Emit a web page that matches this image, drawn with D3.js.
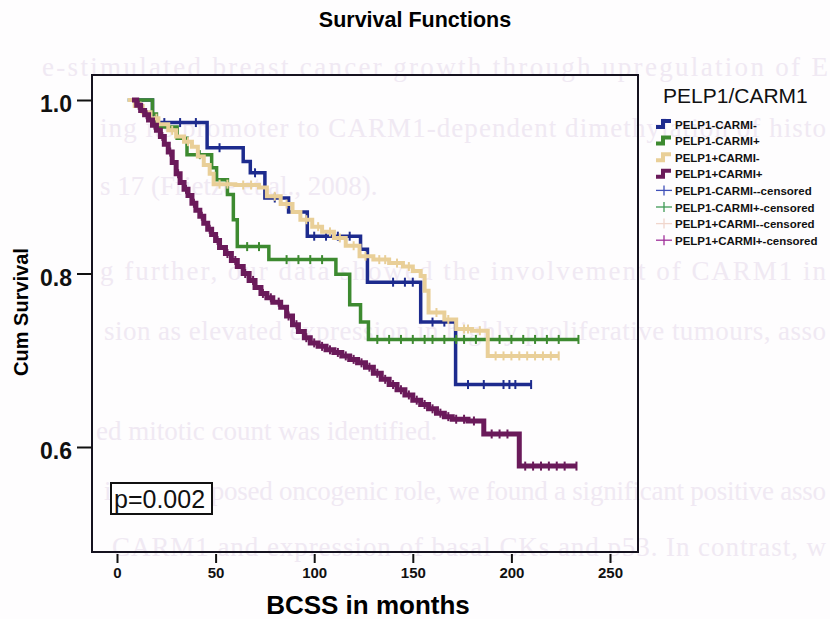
<!DOCTYPE html>
<html><head><meta charset="utf-8">
<script src="https://cdn.jsdelivr.net/npm/d3@7/dist/d3.min.js"></script>
<style>
html,body{margin:0;padding:0;background:#fefdfe;}
svg{display:block;}
</style></head>
<body>
<script>
// ---- data ----
const groups = ["PELP1-CARMI-","PELP1-CARMI+","PELP1+CARMI-","PELP1+CARMI+"];
const colors = ["#1d2b8e","#3d8a30","#e9cf98","#6a1a5a"];
const censorColors = ["#4050b8","#3f9a55","#f0d6cc","#a0309a"];
const legendLabels = ["PELP1-CARMI-","PELP1-CARMI+","PELP1+CARMI-","PELP1+CARMI+",
  "PELP1-CARMI--censored","PELP1-CARMI+-censored","PELP1+CARMI--censored","PELP1+CARMI+-censored"];
const xTicks = [0,50,100,150,200,250];
const yTicks = [0.6,0.8,1.0];

// step curves: [months, cumulative survival]
const blueSteps = [[5.5,1.0],[18,0.974],[45.7,0.945],[64,0.929],[67.6,0.916],[75,0.887],[87,0.871],[96.5,0.843],[123.5,0.828],[127,0.79],[154,0.744],[171.7,0.672],[210,0.672]];
const greenSteps = [[5.5,1.0],[18,0.984],[20,0.969],[30.5,0.956],[35.5,0.937],[48,0.922],[50.5,0.908],[56,0.891],[59,0.862],[61,0.831],[77,0.816],[111,0.799],[118,0.764],[123.5,0.744],[127.5,0.724],[234,0.724]];
const tanSteps = [[5.5,1.0],[9,0.993],[13,0.986],[17,0.979],[21,0.972],[26,0.965],[30,0.958],[34,0.952],[38,0.946],[41,0.935],[44,0.925],[47,0.915],[49,0.903],[60,0.902],[72,0.899],[76,0.889],[83,0.88],[89,0.871],[93,0.862],[99,0.854],[104,0.848],[110,0.841],[116,0.832],[123,0.82],[130,0.816],[138,0.812],[145,0.808],[150,0.803],[154,0.797],[156,0.78],[158,0.755],[166,0.747],[172,0.736],[180,0.734],[188,0.705],[224,0.705]];
const purpleSteps = [[7.6,1.0],[10,0.994],[12,0.988],[14,0.983],[16,0.977],[18,0.971],[20,0.965],[22,0.958],[24,0.949],[26,0.94],[28,0.928],[30,0.915],[32,0.905],[34,0.897],[36,0.89],[38,0.881],[40,0.873],[42,0.866],[44,0.858],[46,0.851],[48,0.845],[50,0.838],[52,0.83],[55,0.823],[58,0.815],[61,0.808],[64,0.8],[67,0.792],[70,0.784],[73,0.777],[76,0.772],[79,0.767],[83,0.761],[86,0.751],[89,0.741],[92,0.733],[95,0.726],[98,0.72],[102,0.716],[106,0.712],[110,0.709],[114,0.705],[118,0.701],[122,0.697],[126,0.692],[130,0.685],[134,0.678],[138,0.672],[142,0.666],[146,0.66],[150,0.654],[154,0.649],[158,0.644],[162,0.639],[166,0.635],[170,0.632],[178,0.63],[186,0.615],[204,0.578],[233,0.578]];

// censoring times (months)
const blueCensor = [24,32,40,52,70,80,100,106,112,118,140,146,150,160,166,178,186,196,199,202,210];
const greenCensor = [42,66,72,86,92,98,104,132,138,144,150,156,160,166,172,176,182,188,194,200,206,212,218,224,234];
const tanCensor = [12,20,28,36,52,56,64,68,80,86,96,102,108,113,120,126,133,136,142,148,162,168,176,178,184,192,196,200,204,208,212,216,220,224];
const purpleCensor = [11,15,19,23,27,31,35,39,43,47,51,56,60,65,69,74,78,82,87,91,96,100,104,108,112,116,120,124,128,132,136,140,144,148,152,156,160,164,168,172,176,181,190,194,198,207,211,215,219,223,227,233];

const bgLines = [
  "e-stimulated breast cancer growth through upregulation of E",
  "ing its promoter to CARM1-dependent dimethylation of histo",
  "s 17 (Frietze et al., 2008).",
  "g further, our data showed the involvement of CARM1 in",
  "sion as elevated expression in highly proliferative tumours, asso",
  "ed mitotic count was identified.",
  "ing its proposed oncogenic role, we found a significant positive asso",
  "CARM1 and expression of basal CKs and p53. In contrast, w"
];

// ---- drawing ----
const W = 830, H = 619;
const svg = d3.select("body").append("svg").attr("width", W).attr("height", H)
  .style("font-family", "'Liberation Sans', Arial, sans-serif");

// faint bleed-through text of the scanned page
const bgY = [76, 137, 195, 280, 340, 440, 500, 556];
const bgX = [42, 100, 100, 100, 104, 96, 104, 112];
const bgLen = [786, 726, null, 726, 722, null, 722, 714];
bgLines.forEach((t, i) => {
  const tx = svg.append("text").attr("x", bgX[i]).attr("y", bgY[i])
    .attr("font-family", "'Liberation Serif', 'DejaVu Serif', serif")
    .attr("font-size", 27).attr("fill", "#f0e9f3").text(t);
  if (bgLen[i]) tx.attr("textLength", bgLen[i]).attr("lengthAdjust", "spacing");
});

const x = d3.scaleLinear().domain([0, 250]).range([117, 610]);
const y = d3.scaleLinear().domain([0.6, 1.0]).range([447, 100]);

// title
svg.append("text").attr("x", 415).attr("y", 27).attr("text-anchor", "middle")
  .attr("font-weight", "bold").attr("font-size", 21.5).text("Survival Functions");

// frame
svg.append("rect").attr("x", 92).attr("y", 75).attr("width", 546).attr("height", 477)
  .attr("fill", "none").attr("stroke", "#15121f").attr("stroke-width", 2);

// y axis
const yAxis = svg.append("g").attr("transform", "translate(92,0)")
  .call(d3.axisLeft(y).tickValues(yTicks).tickFormat(d3.format(".1f")).tickSize(15).tickPadding(5));
yAxis.select(".domain").remove();
yAxis.selectAll("line").attr("stroke", "#111").attr("stroke-width", 2);
yAxis.selectAll("text").attr("font-size", 23).attr("font-weight", "bold").attr("fill", "#111")
  .attr("dy", "0.5em").style("font-family", "'Liberation Sans', Arial, sans-serif");

// x axis
const xAxis = svg.append("g").attr("transform", "translate(0,554)")
  .call(d3.axisBottom(x).tickValues(xTicks).tickSize(9).tickPadding(4));
xAxis.select(".domain").remove();
xAxis.selectAll("line").attr("stroke", "#111").attr("stroke-width", 2);
xAxis.selectAll("text").attr("font-size", 15).attr("font-weight", "bold").attr("fill", "#111")
  .style("font-family", "'Liberation Sans', Arial, sans-serif");

// axis titles
svg.append("text").attr("x", 368).attr("y", 614).attr("text-anchor", "middle")
  .attr("font-weight", "bold").attr("font-size", 26).text("BCSS in months");
svg.append("text").attr("transform", "translate(28,312) rotate(-90)").attr("text-anchor", "middle")
  .attr("font-weight", "bold").attr("font-size", 20).text("Cum Survival");

// curves
const steps = [blueSteps, greenSteps, tanSteps, purpleSteps];
const censors = [blueCensor, greenCensor, tanCensor, purpleCensor];
const widths = [3.5, 3.5, 4, 5];
const line = d3.line().x(d => x(d[0])).y(d => y(d[1])).curve(d3.curveStepAfter);
function survAt(s, t) {
  let v = s[0][1];
  for (const p of s) { if (p[0] <= t) v = p[1]; else break; }
  return v;
}
steps.forEach((s, i) => {
  const g = svg.append("g");
  g.append("path").attr("d", line(s)).attr("fill", "none").attr("stroke", colors[i])
    .attr("stroke-width", widths[i]).attr("stroke-linejoin", "miter");
  g.selectAll("line.c").data(censors[i]).join("line").attr("class", "c")
    .attr("x1", d => x(d)).attr("x2", d => x(d))
    .attr("y1", d => y(survAt(s, d)) - 4.5).attr("y2", d => y(survAt(s, d)) + 4.5)
    .attr("stroke", colors[i]).attr("stroke-width", 2);
});

// p-value box
svg.append("rect").attr("x", 111).attr("y", 483).attr("width", 101).attr("height", 31)
  .attr("fill", "#fff").attr("stroke", "#111").attr("stroke-width", 2);
svg.append("text").attr("x", 114).attr("y", 508).attr("font-size", 25).attr("fill", "#111")
  .text("p=0.002");

// legend
svg.append("text").attr("x", 663).attr("y", 103).attr("font-size", 21).attr("fill", "#111")
  .text("PELP1/CARM1");
const legY0 = 124, legDy = 16.6;
legendLabels.forEach((lab, i) => {
  const cy = legY0 + i * legDy;
  const k = i % 4;
  if (i < 4) {
    svg.append("path").attr("d", `M656,${cy + 3} H663 V${cy - 3} H671`)
      .attr("fill", "none").attr("stroke", colors[k]).attr("stroke-width", 4);
  } else {
    svg.append("line").attr("x1", 656).attr("x2", 672).attr("y1", cy).attr("y2", cy)
      .attr("stroke", censorColors[k]).attr("stroke-width", 1.3);
    svg.append("line").attr("x1", 664).attr("x2", 664).attr("y1", cy - 5).attr("y2", cy + 5)
      .attr("stroke", censorColors[k]).attr("stroke-width", 1.3);
  }
  svg.append("text").attr("x", 675).attr("y", cy + 4.5).attr("font-size", 11.5)
    .attr("font-weight", "bold").attr("fill", "#111").text(lab);
});
</script>
</body></html>
